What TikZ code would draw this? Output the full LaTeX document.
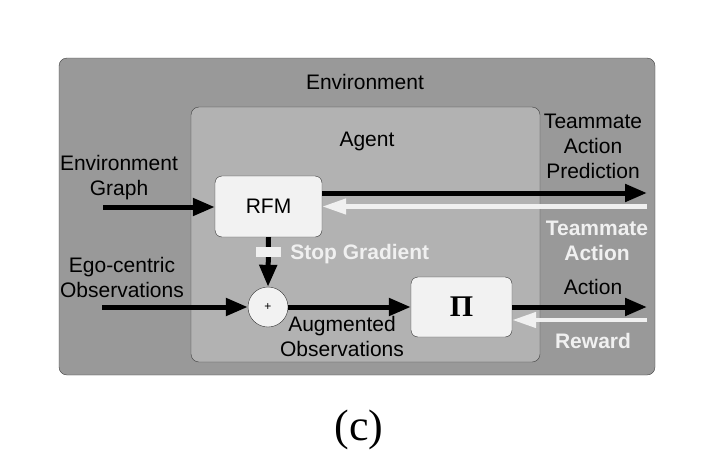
\documentclass[tikz,border=0pt]{standalone}
\usepackage{fontspec}
\setmainfont{Liberation Sans}
\newfontfamily\captionfont{Liberation Serif}
\usetikzlibrary{arrows.meta,positioning}

\begin{document}
\begin{tikzpicture}[x=1pt,y=-1pt,
	every node/.style={font=\fontsize{21}{25}\selectfont, inner sep=0pt},
	envbox/.style={draw=black!75, fill=black!40, rounded corners=8pt},
	agentbox/.style={draw=black!75, fill=black!30, rounded corners=8pt},
	block/.style={draw=black!80, fill=black!5, rounded corners=7pt},
	sum/.style={circle, draw=black!80, fill=black!5, minimum size=40pt},
	fwd/.style={line width=5pt, -{Triangle[length=22pt,width=17pt]}},
	bwd/.style={line width=4.5pt, white!94!black, -{Triangle[length=24pt,width=15pt]}},
	whitelabel/.style={text=white!94!black, font=\fontsize{21}{25}\selectfont\bfseries}]

\useasboundingbox (0,0) rectangle (728,474);

% Boxes
\node[envbox, minimum width=596pt, minimum height=317pt] (env) at (357,216.5) {};
\node[agentbox, minimum width=349pt, minimum height=255pt] (agent) at (365.5,234.5) {};

\node (envlabel) at (365,82) {Environment};
\node (agentlabel) at (367,141) {Agent};

\node[block, minimum width=107pt, minimum height=61pt] (rfm) at (268.5,206.5) {RFM};
\node[sum] (plus) at (268,307) {\fontsize{12}{14}\selectfont +};
\node[block, minimum width=101pt, minimum height=60pt] (policy) at (461.5,307)
	{\captionfont\bfseries\fontsize{30}{34}\selectfont Π};

% Inputs
\node[align=center] (graphlabel) at (119,178) {Environment\\Graph};
\node[align=center] (egolabel) at (122,277) {Ego-centric\\Observations};
\coordinate (graphin) at (103,207);
\coordinate (egoin) at (102,307);

% Outputs
\node[align=center] (predlabel) at (593,146) {Teammate\\Action\\Prediction};
\node[whitelabel, align=center] (matelabel) at (597,241) {Teammate\\Action};
\node (actlabel) at (593,287) {Action};
\node[whitelabel] (rewardlabel) at (593,341) {Reward};
\coordinate (predout) at (647,193);
\coordinate (matein) at (647,206.5);
\coordinate (actout) at (647,307);
\coordinate (rewardin) at (647,320);

\node[align=center] (auglabel) at (342,336) {Augmented\\Observations};

% connections
\draw[fwd] (graphin) -- (rfm.west |- graphin);
\draw[fwd] (egoin) -- (plus.west);
\draw[fwd] (rfm.east |- predout) -- (predout);
\draw[bwd] (matein) -- (rfm.east |- matein);
\draw[fwd] (rfm.south) -- (plus.north);
\draw[fwd] (plus.east) -- (policy.west);
\draw[fwd] (policy.east) -- (actout);
\draw[bwd] (rewardin) -- (policy.east |- rewardin);

% stop gradient
\node[fill=white!94!black, minimum width=25pt, minimum height=10pt] (stopbar) at (268.5,252) {};
\node[whitelabel, anchor=west, right=9pt of stopbar, yshift=-2pt] (stoplabel) {Stop Gradient};

\node[font=\captionfont\fontsize{44}{50}\selectfont] (caption) at (359,430) {(c)};

\end{tikzpicture}
\end{document}
